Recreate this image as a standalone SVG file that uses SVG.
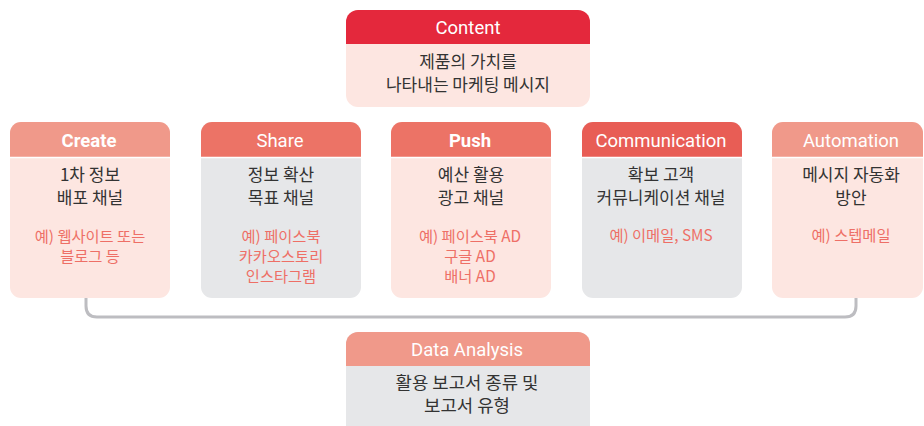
<svg xmlns="http://www.w3.org/2000/svg" width="924" height="426" viewBox="0 0 924 426">
<style>
.hd{font-family:Roboto,"Noto Sans CJK KR",sans-serif;font-size:18.5px;fill:#fff;text-anchor:middle}
.b{font-weight:bold}
.tx{font-family:"Noto Sans CJK KR",sans-serif;font-size:17px;fill:#333;text-anchor:middle}
.ex{font-family:"Noto Sans CJK KR",sans-serif;font-size:15.3px;fill:#ee6f66;text-anchor:middle}
.pink{fill:#fde6e1}
.gray{fill:#e6e7e9}
.sep{stroke:#fff;stroke-width:1.5}
.conn{fill:none;stroke:#bdbdc1;stroke-width:3}
</style>
<defs>
<clipPath id="c1"><rect x="10" y="122" width="160" height="176" rx="11"/></clipPath>
<clipPath id="c2"><rect x="201" y="122" width="160" height="176" rx="11"/></clipPath>
<clipPath id="c3"><rect x="391" y="122" width="160" height="176" rx="11"/></clipPath>
<clipPath id="c4"><rect x="582" y="122" width="160" height="176" rx="11"/></clipPath>
<clipPath id="c5"><rect x="772" y="122" width="151" height="176" rx="11"/></clipPath>
<clipPath id="c0"><rect x="346" y="10" width="244" height="97" rx="12"/></clipPath>
<clipPath id="c6"><rect x="346" y="332" width="244" height="110" rx="12"/></clipPath>
</defs>
<g id="connectors">
<path class="conn" d="M86 298 V306 Q86 317 97 317 H845 Q856 317 856 306 V298"/>
</g>
<g id="content">
<g clip-path="url(#c0)">
<rect class="pink" x="346" y="10" width="244" height="97"/>
<rect x="346" y="10" width="244" height="34" fill="#e4283c"/>
</g>
<text class="hd" x="468" y="33.5">Content</text>
<text class="tx" x="468" y="68">제품의 가치를</text>
<text class="tx" x="468" y="91">나타내는 마케팅 메시지</text>
</g>
<g id="create">
<g clip-path="url(#c1)">
<rect class="pink" x="10" y="122" width="160" height="176"/>
<rect x="10" y="122" width="160" height="35" fill="#f0998a"/>
<line class="sep" x1="10" y1="157.5" x2="170" y2="157.5"/>
</g>
<text class="hd b" x="89" y="146.5">Create</text>
<text class="tx" x="90" y="180.5">1차 정보</text>
<text class="tx" x="90" y="203.5">배포 채널</text>
<text class="ex" x="90" y="242">예) 웹사이트 또는</text>
<text class="ex" x="90" y="262">블로그 등</text>
</g>
<g id="share">
<g clip-path="url(#c2)">
<rect class="gray" x="201" y="122" width="160" height="176"/>
<rect x="201" y="122" width="160" height="35" fill="#ec7366"/>
<line class="sep" x1="201" y1="157.5" x2="361" y2="157.5"/>
</g>
<text class="hd" x="280" y="146.5">Share</text>
<text class="tx" x="281" y="180.5">정보 확산</text>
<text class="tx" x="281" y="203.5">목표 채널</text>
<text class="ex" x="281" y="242">예) 페이스북</text>
<text class="ex" x="281" y="262">카카오스토리</text>
<text class="ex" x="281" y="282">인스타그램</text>
</g>
<g id="push">
<g clip-path="url(#c3)">
<rect class="pink" x="391" y="122" width="160" height="176"/>
<rect x="391" y="122" width="160" height="35" fill="#ec7366"/>
<line class="sep" x1="391" y1="157.5" x2="551" y2="157.5"/>
</g>
<text class="hd b" x="470" y="146.5">Push</text>
<text class="tx" x="471" y="180.5">예산 활용</text>
<text class="tx" x="471" y="203.5">광고 채널</text>
<text class="ex" x="470" y="242">예) 페이스북 AD</text>
<text class="ex" x="470" y="262">구글 AD</text>
<text class="ex" x="470" y="282">배너 AD</text>
</g>
<g id="communication">
<g clip-path="url(#c4)">
<rect class="gray" x="582" y="122" width="160" height="176"/>
<rect x="582" y="122" width="160" height="35" fill="#e85d55"/>
<line class="sep" x1="582" y1="157.5" x2="742" y2="157.5"/>
</g>
<text class="hd" x="661" y="146.5">Communication</text>
<text class="tx" x="661" y="180.5">확보 고객</text>
<text class="tx" x="661" y="203.5">커뮤니케이션 채널</text>
<text class="ex" x="661" y="241">예) 이메일, SMS</text>
</g>
<g id="automation">
<g clip-path="url(#c5)">
<rect class="pink" x="772" y="122" width="151" height="176"/>
<rect x="772" y="122" width="151" height="35" fill="#f0998a"/>
<line class="sep" x1="772" y1="157.5" x2="923" y2="157.5"/>
</g>
<text class="hd" x="851" y="146.5">Automation</text>
<text class="tx" x="851" y="180.5">메시지 자동화</text>
<text class="tx" x="851" y="203.5">방안</text>
<text class="ex" x="851" y="241">예) 스텝메일</text>
</g>
<g id="data-analysis">
<g clip-path="url(#c6)">
<rect class="gray" x="346" y="332" width="244" height="110"/>
<rect x="346" y="332" width="244" height="34" fill="#f0998a"/>
</g>
<text class="hd" x="467" y="356" textLength="112" lengthAdjust="spacingAndGlyphs">Data Analysis</text>
<text class="tx" x="467" y="389" textLength="143" lengthAdjust="spacingAndGlyphs">활용 보고서 종류 및</text>
<text class="tx" x="467" y="412" textLength="86" lengthAdjust="spacingAndGlyphs">보고서 유형</text>
</g>
</svg>
